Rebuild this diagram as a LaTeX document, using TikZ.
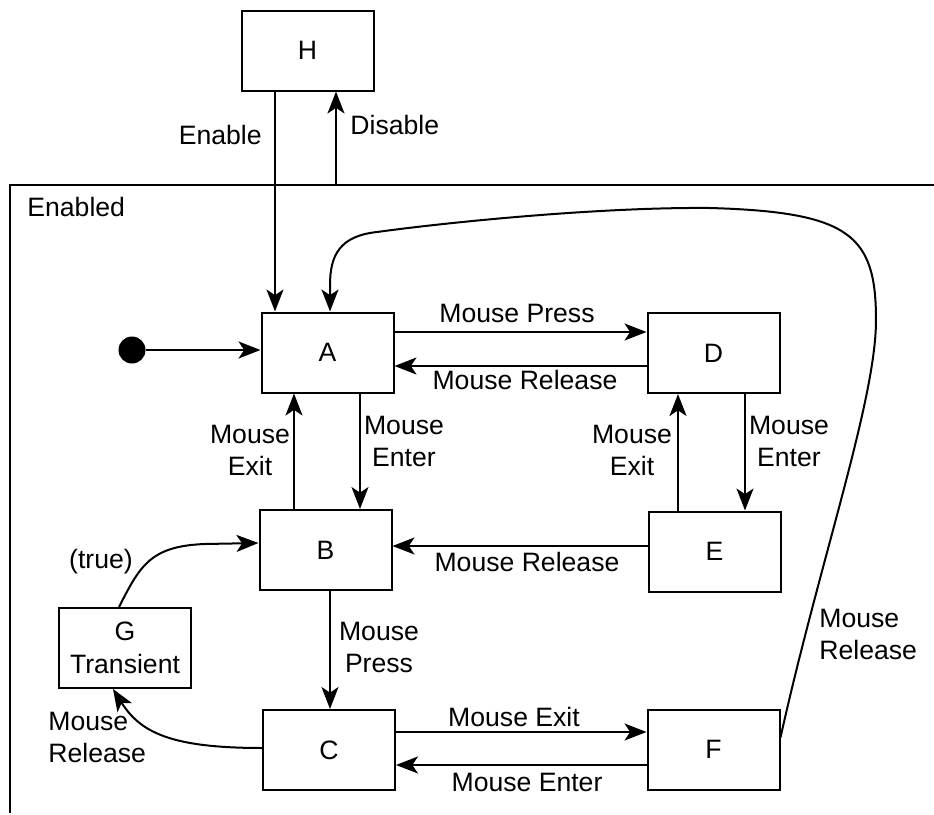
\documentclass[tikz,border=0pt]{standalone}
\usepackage{fontspec}
\setmainfont{Liberation Sans}
\usetikzlibrary{arrows.meta}
\begin{document}
\begin{tikzpicture}[x=0.5pt,y=-0.5pt,
  font=\fontsize{13.3}{16}\selectfont,
  state/.style={draw, line width=1pt, minimum width=66pt, minimum height=40pt,
    inner sep=0pt, align=center},
  arr/.style={line width=1pt, -{Stealth[length=11pt,width=8.5pt,inset=2.8pt]}},
  lbl/.style={inner sep=0pt, align=center},
]
\useasboundingbox (0,0) rectangle (934,815);

% enclosing "Enabled" region (open to the right and bottom)
\draw[line width=1pt] (934,185) -- (10,185) -- (10,813);
\node[lbl, anchor=west] (enabledlbl) at (27,207) {Enabled};

% states
\node[state] (H) at (307.5,50.5) {H};
\node[state] (A) at (327.5,352.5) {A};
\node[state] (D) at (713.5,353) {D};
\node[state] (B) at (325.5,550) {B};
\node[state] (E) at (714.5,551.5) {E};
\node[state] (C) at (329,750) {C};
\node[state] (F) at (713.5,749.5) {F};
\node[state] (G) at (125,648) {G\\[0.5pt]Transient};
\node[circle, fill, minimum size=13.5pt, inner sep=0pt] (init) at (132,350) {};

% helper coordinates for the straight connectors
\coordinate (xen) at (275,185);
\coordinate (xdis) at (336,185);
\coordinate (xab) at (360,0);
\coordinate (xba) at (294,0);
\coordinate (xde) at (745,0);
\coordinate (xed) at (678,0);
\coordinate (xbc) at (330,0);
\coordinate (yad) at (0,332);
\coordinate (yda) at (0,366);
\coordinate (yeb) at (0,546);
\coordinate (ycf) at (0,732);
\coordinate (yfc) at (0,765);

% Enable / Disable
\draw[arr] (xen |- H.south) -- (xen |- A.north);
\draw[arr] (xdis) -- (xdis |- H.south);
\node[lbl, anchor=east] (lenable) at (262,135) {Enable};
\node[lbl, anchor=west] (ldisable) at (350,125) {Disable};

% initial transition
\draw[arr] (init) -- (init -| A.west);

% A <-> D
\draw[arr] (A.east |- yad) -- (D.west |- yad);
\draw[arr] (D.west |- yda) -- (A.east |- yda);
\node[lbl] (lad) at (517,313) {Mouse Press};
\node[lbl] (lda) at (525,380) {Mouse Release};

% A <-> B
\draw[arr] (xab |- A.south) -- (xab |- B.north);
\draw[arr] (xba |- B.north) -- (xba |- A.south);
\node[lbl] (lab) at (404,441) {Mouse\\Enter};
\node[lbl] (lba) at (250,450) {Mouse\\Exit};

% D <-> E
\draw[arr] (xde |- D.south) -- (xde |- E.north);
\draw[arr] (xed |- E.north) -- (xed |- D.south);
\node[lbl] (lde) at (789,441) {Mouse\\Enter};
\node[lbl] (led) at (632,450) {Mouse\\Exit};

% E -> B
\draw[arr] (E.west |- yeb) -- (B.east |- yeb);
\node[lbl] (leb) at (527,562) {Mouse Release};

% B -> C
\draw[arr] (xbc |- B.south) -- (xbc |- C.north);
\node[lbl] (lbc) at (379,647) {Mouse\\Press};

% C <-> F
\draw[arr] (C.east |- ycf) -- (F.west |- ycf);
\draw[arr] (F.west |- yfc) -- (C.east |- yfc);
\node[lbl] (lcf) at (514,717) {Mouse Exit};
\node[lbl] (lfc) at (527,782) {Mouse Enter};

% C -> G -> B
\draw[arr] ([yshift=1pt]C.west) .. controls (170,748) and (140,732) .. ([xshift=-6pt]G.south);
\node[lbl, anchor=west, align=left] (lcg) at (48,737) {Mouse\\Release};
\draw[arr] ([xshift=-3pt]G.north) .. controls (140,566) and (150,546) .. (205,544) -- ([yshift=3.5pt]B.west);
\node[lbl] (lgb) at (101,562) {(true)};

% F -> A, the long way round
\draw[arr] ([yshift=6pt]F.east) .. controls (820,560) and (876,400) .. (876,320)
  .. controls (876,235) and (850,212) .. (710,208)
  .. controls (600,207) and (450,222) .. (377,232)
  .. controls (340,236) and (330,255) .. (330,285) -- ([xshift=1.25pt]A.north);
\node[lbl, anchor=west, align=left] (lfa) at (819,634) {Mouse\\Release};
\end{tikzpicture}
\end{document}
